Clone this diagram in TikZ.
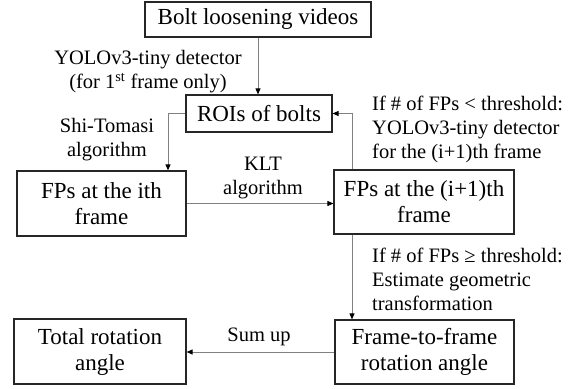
\documentclass[tikz,border=0pt]{standalone}
\usepackage{fontspec}
\setmainfont{Liberation Serif}
\usetikzlibrary{arrows.meta}
\tikzset{
  box/.style={draw=black!85, line width=1.2pt, inner sep=0pt, align=center,
    font=\fontsize{23}{26}\selectfont},
  lbl/.style={inner sep=0pt, font=\fontsize{20.5}{24}\selectfont},
  arr/.style={draw=black!50, line width=0.9pt,
    -{Triangle[length=6pt,width=5pt,fill=black,color=black]}},
}
\begin{document}
\begin{tikzpicture}[x=1pt,y=-1pt]
\useasboundingbox (0,0) rectangle (580,388);

% process boxes
\node[box, minimum width=226pt, minimum height=35pt] (videos) at (258,19.5) {Bolt loosening videos};
\node[box, minimum width=146pt, minimum height=37pt] (rois) at (259,113.5) {ROIs of bolts};
\node[box, minimum width=169pt, minimum height=65pt] (fpi) at (101.5,203.5) {FPs at the ith\\frame};
\node[box, minimum width=180pt, minimum height=64pt] (fpn) at (424,202) {FPs at the (i+1)th\\frame};
\node[box, minimum width=179pt, minimum height=64pt] (f2f) at (424.5,352) {Frame-to-frame\\rotation angle};
\node[box, minimum width=172pt, minimum height=65pt] (total) at (100,351.5) {Total rotation\\angle};

% connector anchor points
\coordinate (stdrop) at ([xshift=66.5pt]fpi.north);
\coordinate (upsrc) at ([xshift=-72pt]fpn.north);
\coordinate (downsrc) at ([xshift=-72pt]fpn.south);

% connectors
\draw[arr] (videos.south) -- (videos.south |- rois.north);
\draw[arr] (rois.west) -| (stdrop);
\draw[arr] (fpi.east) -- (fpi.east -| fpn.west);
\draw[arr] (upsrc) |- (rois.east);
\draw[arr] (downsrc) -- (downsrc |- f2f.north);
\draw[arr] (f2f.west) -- (f2f.west -| total.east);

% connector labels
\node[lbl, align=center] (l1) at (148,72) {YOLOv3-tiny detector\\(for 1\textsuperscript{st} frame only)};
\node[lbl, align=center] (l2) at (107,140) {Shi-Tomasi\\algorithm};
\node[lbl, align=center] (l3) at (263,178) {KLT\\algorithm};
\node[lbl, align=left, anchor=west] (l4) at (372,129) {If \# of FPs < threshold:\\YOLOv3-tiny detector\\for the (i+1)th frame};
\node[lbl, align=left, anchor=west] (l5) at (372,279) {If \# of FPs ≥ threshold:\\Estimate geometric\\transformation};
\node[lbl] (l6) at (259,337) {Sum up};
\end{tikzpicture}
\end{document}
